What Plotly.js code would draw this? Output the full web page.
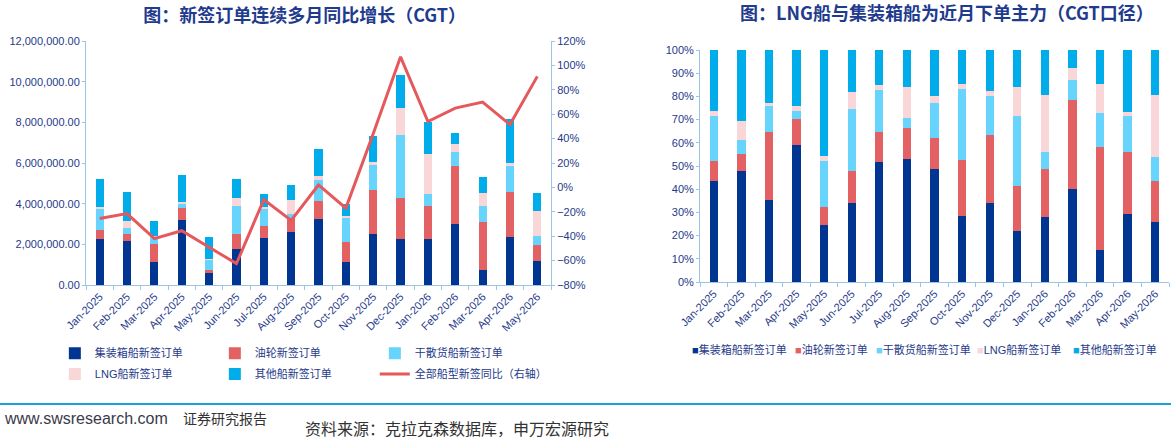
<!DOCTYPE html>
<html>
<head>
<meta charset="utf-8">
<script src="https://cdn.plot.ly/plotly-3.0.1.min.js"></script>
<style>
  body { margin: 0; background: #fff; width: 1171px; height: 438px; position: relative; overflow: hidden;
         font-family: "Liberation Sans", Arial, "Noto Sans CJK SC", sans-serif; }
  #left { position: absolute; left: 0; top: 0; width: 640px; height: 400px; }
  #right { position: absolute; left: 640px; top: 0; width: 531px; height: 400px; }
  #rule { position: absolute; left: 0; top: 403px; width: 1171px; height: 2px; background: #1c9fe0; }
  .foot { position: absolute; white-space: nowrap; color: #333; }
</style>
</head>
<body>
<div id="left"></div>
<div id="right"></div>
<div id="rule"></div>
<div class="foot" style="left:5px; top:410px; font-size:16px; color:#3a3a4a;">www.swsresearch.com</div>
<div class="foot" style="left:183px; top:408px; font-size:14px; font-family:'Noto Sans CJK SC';">证券研究报告</div>
<div class="foot" style="left:305px; top:416px; font-size:16px; font-family:'Noto Sans CJK SC';">资料来源：克拉克森数据库，申万宏源研究</div>

<script>
// months
const months = ["Jan-2025", "Feb-2025", "Mar-2025", "Apr-2025", "May-2025", "Jun-2025", "Jul-2025", "Aug-2025",
  "Sep-2025", "Oct-2025", "Nov-2025", "Dec-2025", "Jan-2026", "Feb-2026", "Mar-2026", "Apr-2026", "May-2026"]

// new orders by ship type, CGT
const container = [2270000, 2180000, 1110000, 3200000, 580000, 1780000, 2320000, 2610000, 3240000, 1140000,
  2510000, 2280000, 2250000, 3000000, 730000, 2380000, 1170000]
const tanker = [440000, 330000, 920000, 600000, 180000, 730000, 580000, 670000, 890000, 960000,
  2150000, 1980000, 1660000, 2870000, 2370000, 2190000, 790000]
const bulk = [1010000, 280000, 340000, 180000, 470000, 1390000, 820000, 210000, 1020000, 1210000,
  1230000, 3130000, 590000, 670000, 780000, 1270000, 470000]
const lng = [100000, 360000, 50000, 110000, 50000, 390000, 100000, 670000, 210000, 80000,
  160000, 1300000, 1960000, 390000, 650000, 160000, 1210000]
const other = [1370000, 1400000, 710000, 1310000, 1080000, 940000, 680000, 780000, 1310000, 590000,
  1290000, 1650000, 1550000, 570000, 790000, 2170000, 880000]
// yoy of all ship types, %
const yoy = [-25.5, -21.5, -42, -35.5, -49, -62.5, -10, -27, 2, -17, 44, 107, 54, 65, 70, 51.5, 91]

const names = ["集装箱船新签订单", "油轮新签订单", "干散货船新签订单", "LNG船新签订单", "其他船新签订单"]
const lineName = "全部船型新签同比（右轴）"
const series = [container, tanker, bulk, lng, other]
const colors = ["#003591", "#e46163", "#66d4fd", "#f9d6d7", "#00acea"]

const navy = "#1f3a8a"
const axisBlue = "#9dc3e6"
const fontFam = '"Liberation Sans", Arial, "Noto Sans CJK SC", sans-serif'

// ---- left chart ----
let leftData = series.map((s, i) => {
  return {
    type: "bar",
    name: names[i],
    x: months,
    y: s,
    marker: { color: colors[i] },
    legend: i < 3 ? "legend" : "legend2",
    hoverinfo: "y+name",
  }
})
leftData.push({
  type: "scatter",
  mode: "lines",
  name: lineName,
  x: months,
  y: yoy,
  yaxis: "y2",
  line: { color: "#e5585b", width: 3 },
  legend: "legend3",
})

const legendBase = {
  orientation: "h",
  xanchor: "left",
  yanchor: "top",
  x: -0.067,
  entrywidth: 115,
  traceorder: "normal",
  font: { size: 11, color: navy, family: fontFam },
  bgcolor: "rgba(0,0,0,0)",
}

const leftLayout = {
  width: 640,
  height: 400,
  margin: { l: 86, r: 89, t: 41, b: 113 },
  paper_bgcolor: "#fff",
  plot_bgcolor: "#fff",
  barmode: "stack",
  bargap: 0.7,
  font: { family: fontFam, size: 11, color: navy },
  title: {
    text: "图：新签订单连续多月同比增长（CGT）",
    font: { size: 18, color: "#1f3b8e", weight: "bold", family: '"Noto Sans CJK SC", sans-serif' },
    xref: "container", yref: "container",
    x: 0.476, xanchor: "center", y: 1 - 16 / 400, yanchor: "middle",
  },
  xaxis: {
    type: "category",
    tickangle: -45,
    showline: true, linecolor: axisBlue, linewidth: 1,
    ticks: "outside", tickson: "boundaries", ticklen: 4, tickcolor: axisBlue,
    tickfont: { size: 11, color: navy },
    showgrid: false,
  },
  yaxis: {
    range: [0, 12000000], dtick: 2000000, tickformat: ",.2f",
    showline: true, linecolor: axisBlue, ticks: "outside", ticklen: 3, tickcolor: axisBlue,
    showgrid: false, zeroline: false, tickfont: { size: 11, color: navy },
  },
  yaxis2: {
    overlaying: "y", side: "right",
    range: [-80, 120], dtick: 20, ticksuffix: "%",
    showline: true, linecolor: axisBlue, ticks: "outside", ticklen: 3, tickcolor: axisBlue,
    showgrid: false, zeroline: false, tickfont: { size: 11, color: navy },
  },
  showlegend: true,
  legend: Object.assign({}, legendBase, { y: -0.22 }),
  legend2: Object.assign({}, legendBase, { y: -0.305 }),
  legend3: Object.assign({}, legendBase, { y: -0.305, x: 0.621, entrywidth: 0 }),
}

Plotly.newPlot("left", leftData, leftLayout, { displayModeBar: false, staticPlot: true })

// ---- right chart (same orders, shares) ----
const rightData = series.map((s, i) => {
  return {
    type: "bar",
    name: names[i],
    x: months,
    y: s,
    marker: { color: colors[i] },
    showlegend: false,
  }
})

// legend drawn as annotations so symbol sits close to text
const legendX = [-0.0213, 0.198, 0.371, 0.586, 0.791]
const rightAnn = names.map((n, i) => {
  return {
    xref: "paper", yref: "paper",
    x: legendX[i], y: -0.289,
    xanchor: "left", yanchor: "middle",
    showarrow: false,
    text: '<span style="color:' + colors[i] + '">■</span>' + n,
    font: { size: 11, color: navy, family: fontFam },
  }
})

const rightLayout = {
  width: 531,
  height: 400,
  margin: { l: 60, r: 2, t: 50, b: 118 },
  paper_bgcolor: "#fff",
  plot_bgcolor: "#fff",
  barmode: "stack",
  barnorm: "percent",
  bargap: 0.7,
  font: { family: fontFam, size: 11, color: navy },
  title: {
    text: "图：LNG船与集装箱船为近月下单主力（CGT口径）",
    font: { size: 18, color: "#1f3b8e", weight: "bold", family: '"Noto Sans CJK SC", sans-serif' },
    xref: "container", yref: "container",
    x: 0.578, xanchor: "center", y: 1 - 14 / 400, yanchor: "middle",
  },
  xaxis: {
    type: "category",
    tickangle: -45,
    showline: true, linecolor: axisBlue,
    ticks: "outside", tickson: "boundaries", ticklen: 4, tickcolor: axisBlue,
    tickfont: { size: 11, color: navy },
    showgrid: false,
  },
  yaxis: {
    range: [0, 100], dtick: 10, ticksuffix: "%",
    showline: true, linecolor: axisBlue, ticks: "outside", ticklen: 3, tickcolor: axisBlue,
    showgrid: false, zeroline: false, tickfont: { size: 11, color: navy },
  },
  annotations: rightAnn,
  showlegend: false,
}

Plotly.newPlot("right", rightData, rightLayout, { displayModeBar: false, staticPlot: true })
</script>
</body>
</html>
